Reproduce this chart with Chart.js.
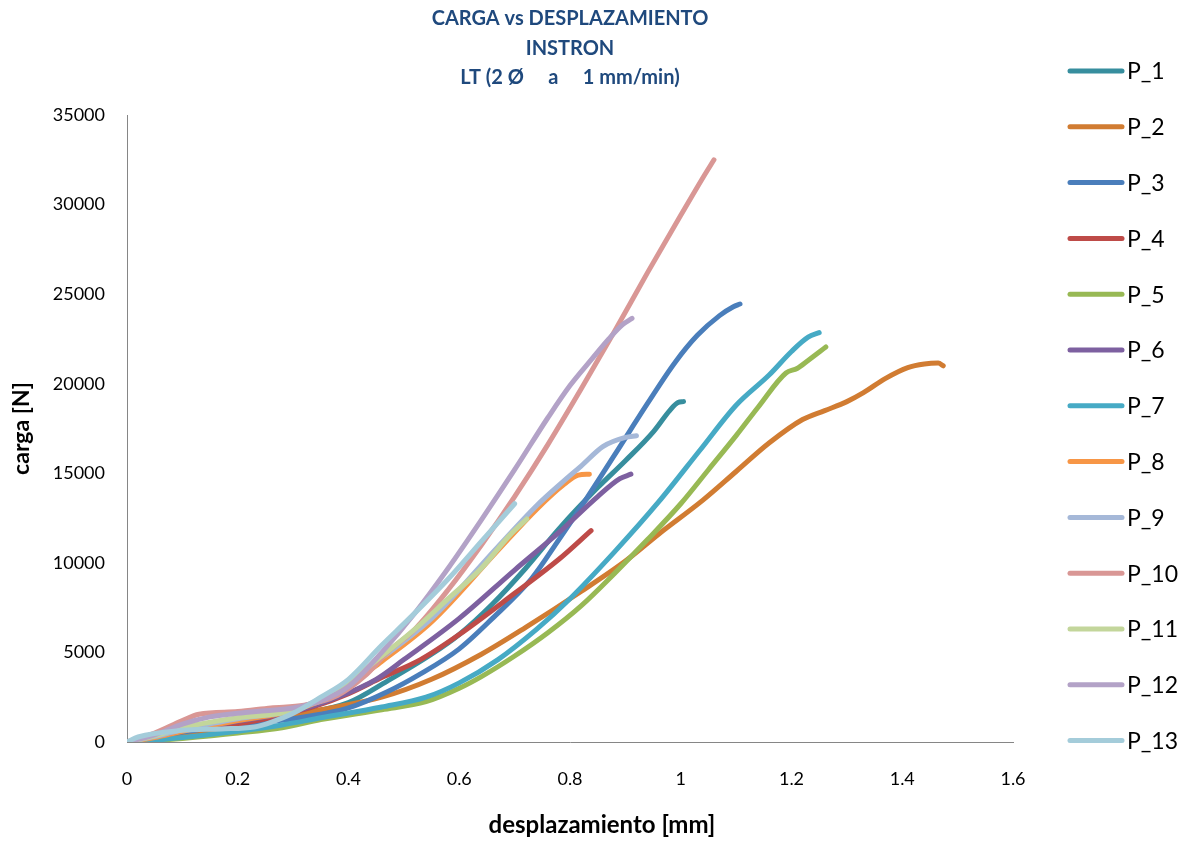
<!DOCTYPE html>
<html>
<head>
<meta charset="utf-8">
<title>CARGA vs DESPLAZAMIENTO</title>
<script src="https://cdn.jsdelivr.net/npm/chart.js@4.4.1/dist/chart.umd.min.js"></script>
<style>
  body { margin: 0; background: #ffffff; }
  #wrap { width: 1190px; height: 842px; }
</style>
</head>
<body>
<div id="wrap"><canvas id="myChart" width="1190" height="842"></canvas></div>
<script>
// title + axis texts
const titleLines = ["CARGA vs DESPLAZAMIENTO", "INSTRON", "LT (2 Ø     a     1 mm/min)"];
const xTitle = "desplazamiento [mm]";
const yTitle = "carga [N]";

// tick values / labels
const xTickValues = [0, 0.2, 0.4, 0.6, 0.8, 1, 1.2, 1.4, 1.6];
const xTickLabels = ["0", "0.2", "0.4", "0.6", "0.8", "1", "1.2", "1.4", "1.6"];
const yTickValues = [0, 5000, 10000, 15000, 20000, 25000, 30000, 35000];
const yTickLabels = ["0", "5000", "10000", "15000", "20000", "25000", "30000", "35000"];

// series: [desplazamiento mm, carga N]
const P_1 = [[0,0],[0.05,250],[0.1,500],[0.2,1000],[0.3,1500],[0.4,2200],[0.47,3400],[0.55,4900],[0.6,6000],[0.66,7700],[0.72,9700],[0.78,11900],[0.85,14200],[0.9,15700],[0.95,17300],[0.98,18500],[0.995,18950],[1.005,19000]];
const P_2 = [[0,0],[0.05,150],[0.1,350],[0.2,800],[0.28,1350],[0.35,1800],[0.46,2500],[0.55,3500],[0.64,4900],[0.72,6400],[0.82,8400],[0.9,10100],[0.96,11600],[1.04,13500],[1.1,15100],[1.16,16700],[1.22,18000],[1.26,18500],[1.3,19000],[1.33,19500],[1.37,20300],[1.41,20900],[1.44,21100],[1.465,21150],[1.474,21000]];
const P_3 = [[0,0],[0.05,250],[0.1,550],[0.2,950],[0.3,1300],[0.4,1900],[0.47,2800],[0.53,3800],[0.6,5200],[0.66,6900],[0.73,9100],[0.78,11300],[0.83,13600],[0.88,16000],[0.94,18900],[0.99,21200],[1.03,22700],[1.07,23800],[1.095,24300],[1.107,24450]];
const P_4 = [[0,0],[0.05,300],[0.1,650],[0.2,1000],[0.28,1500],[0.34,2000],[0.4,2700],[0.46,3600],[0.53,4600],[0.6,6000],[0.7,8300],[0.78,10200],[0.838,11800]];
const P_5 = [[0,0],[0.05,80],[0.1,200],[0.2,500],[0.28,800],[0.35,1250],[0.46,1800],[0.54,2250],[0.6,3000],[0.64,3650],[0.7,4800],[0.76,6100],[0.82,7600],[0.88,9400],[0.94,11300],[1.0,13300],[1.05,15200],[1.1,17100],[1.14,18700],[1.19,20600],[1.21,20850],[1.23,21300],[1.262,22050]];
const P_6 = [[0,0],[0.05,300],[0.1,650],[0.2,1150],[0.3,1700],[0.38,2500],[0.45,3500],[0.5,4600],[0.6,6900],[0.7,9600],[0.78,11700],[0.85,13700],[0.89,14700],[0.91,14950]];
const P_7 = [[0,0],[0.05,100],[0.1,250],[0.2,600],[0.28,950],[0.35,1350],[0.46,1950],[0.54,2500],[0.6,3300],[0.67,4600],[0.74,6300],[0.8,8000],[0.88,10600],[0.96,13400],[1.035,16300],[1.1,18800],[1.16,20500],[1.2,21800],[1.23,22600],[1.25,22850]];
const P_8 = [[0,0],[0.05,250],[0.1,600],[0.2,1200],[0.3,1750],[0.38,2750],[0.46,4500],[0.55,6700],[0.67,10700],[0.74,13000],[0.79,14400],[0.815,14900],[0.835,14950]];
const P_9 = [[0,0],[0.05,300],[0.1,700],[0.2,1300],[0.3,1800],[0.38,2900],[0.46,4700],[0.55,6900],[0.67,10900],[0.74,13200],[0.79,14600],[0.82,15400],[0.86,16500],[0.9,17000],[0.92,17100]];
const P_10 = [[0,0],[0.05,500],[0.1,1200],[0.13,1550],[0.2,1700],[0.26,1900],[0.32,2050],[0.38,2600],[0.43,3700],[0.47,5000],[0.52,6300],[0.58,8500],[0.64,11000],[0.7,13700],[0.76,16600],[0.82,19700],[0.88,22900],[0.94,26200],[1.0,29400],[1.04,31500],[1.06,32500]];
const P_11 = [[0,0],[0.05,350],[0.1,800],[0.2,1350],[0.3,1750],[0.38,2900],[0.46,4800],[0.52,6300],[0.58,8000],[0.64,9700],[0.69,11500],[0.722,12450]];
const P_12 = [[0,0],[0.05,400],[0.1,1000],[0.15,1400],[0.2,1600],[0.25,1750],[0.3,1900],[0.35,2300],[0.4,3100],[0.46,5000],[0.52,7200],[0.58,9700],[0.64,12400],[0.7,15200],[0.76,18100],[0.8,19900],[0.84,21400],[0.87,22500],[0.895,23300],[0.912,23650]];
const P_13 = [[0,0],[0.02,280],[0.1,650],[0.17,730],[0.23,840],[0.26,1100],[0.3,1600],[0.35,2500],[0.4,3500],[0.46,5400],[0.51,6900],[0.58,9100],[0.64,11200],[0.7,13300]];

const seriesNames = ["P_1","P_2","P_3","P_4","P_5","P_6","P_7","P_8","P_9","P_10","P_11","P_12","P_13"];
const seriesData = [P_1,P_2,P_3,P_4,P_5,P_6,P_7,P_8,P_9,P_10,P_11,P_12,P_13];
const seriesColors = ["#378E9E","#D17C32","#4A7EBB","#BE4B48","#98B954","#7D60A0","#46AAC5","#F79646","#A5B8D8","#D99795","#C3D69B","#B3A2C7","#A4CCDA"];

const FONT = "Lato, 'Open Sans', sans-serif";

let datasets = [];
for (let i = 0; i < seriesNames.length; i++) {
  datasets.push({
    label: seriesNames[i],
    data: seriesData[i].map(p => ({x: p[0], y: p[1]})),
    showLine: true,
    borderColor: seriesColors[i],
    backgroundColor: seriesColors[i],
    borderWidth: 5,
    borderCapStyle: "round",
    borderJoinStyle: "round",
    pointRadius: 0,
    pointHoverRadius: 0,
    cubicInterpolationMode: "monotone",
    order: seriesNames.length - i   // later series on top, like the original
  });
}

// legend at the right (long line samples) + x axis title, which sits a bit right of centre
const sideLegend = {
  id: "sideLegend",
  afterDraw(chart) {
    const ctx = chart.ctx;
    ctx.save();
    ctx.font = "23px " + FONT;
    ctx.textBaseline = "middle";
    ctx.textAlign = "left";
    chart.data.datasets.forEach((ds, i) => {
      const y = 71 + i * 55.8;
      ctx.strokeStyle = ds.borderColor;
      ctx.lineWidth = 5;
      ctx.lineCap = "round";
      ctx.beginPath();
      ctx.moveTo(1070, y);
      ctx.lineTo(1122, y);
      ctx.stroke();
      ctx.fillStyle = "#000000";
      ctx.fillText(ds.label, 1127, y + 1);
    });

    ctx.font = "bold 24px " + FONT;
    ctx.textAlign = "center";
    ctx.fillText(xTitle, 602, 825);
    ctx.restore();
  }
};

new Chart("myChart", {
  type: "scatter",
  data: { datasets: datasets },
  plugins: [sideLegend],
  options: {
    responsive: false,
    animation: false,
    devicePixelRatio: 1,
    layout: { padding: { top: 0, left: 0, right: 177, bottom: 0 } },
    plugins: {
      legend: { display: false },
      tooltip: { enabled: false },
      title: {
        display: true,
        fullSize: false,
        text: titleLines,
        color: "#1F497D",
        font: { family: FONT, size: 20, weight: "bold", lineHeight: 1.475 },
        padding: { top: 4, bottom: 22.5 }
      }
    },
    scales: {
      x: {
        type: "linear",
        min: 0,
        max: 1.6,
        afterBuildTicks: s => { s.ticks = xTickValues.map(v => ({ value: v })); },
        afterFit: s => { s.height = 100; },
        ticks: {
          callback: (v, i) => xTickLabels[i],
          color: "#000000",
          font: { family: FONT, size: 18 },
          padding: 26,
          maxRotation: 0,
          autoSkip: false
        },
        grid: { display: false, drawTicks: false },
        border: { display: true, color: "#868686", width: 1 },
        title: { display: false }
      },
      y: {
        type: "linear",
        min: 0,
        max: 35000,
        afterBuildTicks: s => { s.ticks = yTickValues.map(v => ({ value: v })); },
        afterFit: s => { s.width = 127; },
        ticks: {
          callback: (v, i) => yTickLabels[i],
          color: "#000000",
          font: { family: FONT, size: 18 },
          padding: 22,
          autoSkip: false
        },
        grid: { display: false, drawTicks: false },
        border: { display: true, color: "#868686", width: 1 },
        title: {
          display: true,
          text: yTitle,
          color: "#000000",
          font: { family: FONT, size: 23, weight: "bold" },
          padding: { top: 8, bottom: 0 }
        }
      }
    }
  }
});
</script>
</body>
</html>
